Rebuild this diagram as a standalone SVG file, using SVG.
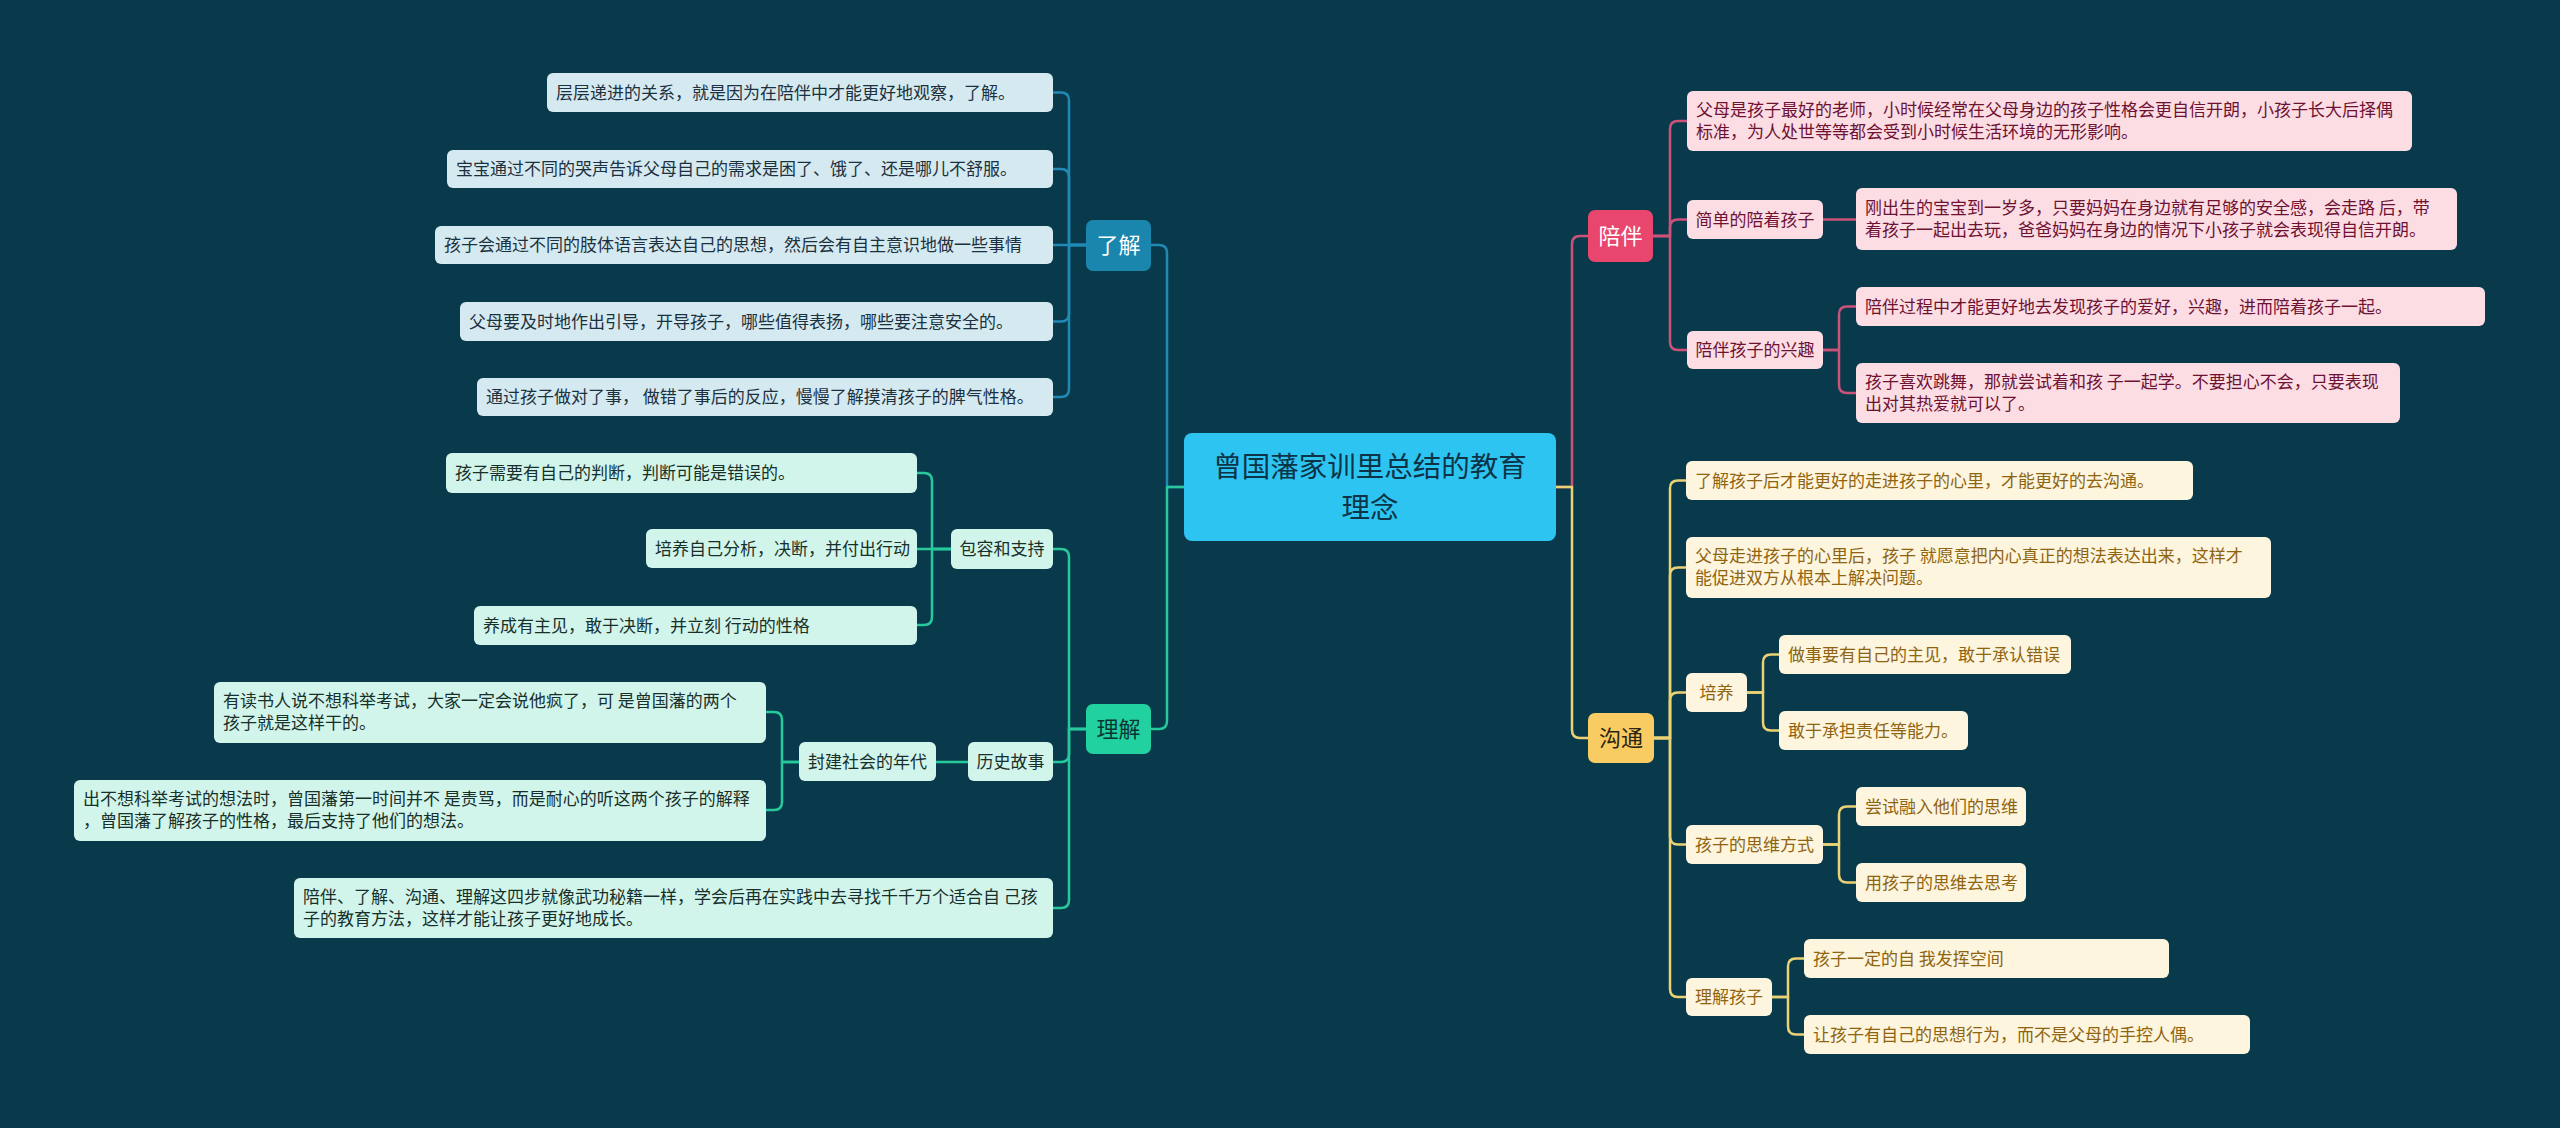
<svg xmlns="http://www.w3.org/2000/svg" width="2560" height="1128" viewBox="0 0 2560 1128">
<style>
text{font-family:"Noto Sans CJK SC","Noto Sans",sans-serif;}
.c path{fill:none;stroke-linecap:round;stroke-linejoin:round;}
.cb{stroke:#2089b5;stroke-width:2.5}
.cg{stroke:#27c99a;stroke-width:2.5}
.cp{stroke:#cc527a;stroke-width:2.5}
.cy{stroke:#ebd275;stroke-width:2.5}
.lb rect{fill:#d5e9f1}
.lb text{fill:#1c3140;font-size:17px}
.lg rect{fill:#d2f5eb}
.lg text{fill:#17302c;font-size:17px}
.lp rect{fill:#fcdde4}
.lp text{fill:#6e1233;font-size:17px}
.ly rect{fill:#fdf5de}
.ly text{fill:#8f6410;font-size:17px}
.mid{text-anchor:middle}
.br text{font-size:22px;text-anchor:middle}
</style>
<rect width="2560" height="1128" fill="#083a4c"/>
<g class="c" id="connectors">
<path class="cb" d="M1184,487 H1167 V253 Q1167,245 1159,245 H1151"/>
<path class="cg" d="M1184,487 H1167 V721 Q1167,729 1159,729 H1151"/>
<path class="cp" d="M1556,487 H1572 V244 Q1572,236 1580,236 H1588"/>
<path class="cy" d="M1556,487 H1572 V730 Q1572,738 1580,738 H1588"/>
<path class="cb" d="M1086,245 H1069 V100.5 Q1069,92.5 1061,92.5 H1053"/>
<path class="cb" d="M1086,245 H1069 V177 Q1069,169 1061,169 H1053"/>
<path class="cb" d="M1086,245 H1053"/>
<path class="cb" d="M1086,245 H1069 V313.5 Q1069,321.5 1061,321.5 H1053"/>
<path class="cb" d="M1086,245 H1069 V389 Q1069,397 1061,397 H1053"/>
<path class="cg" d="M1086,729 H1069 V557 Q1069,549 1061,549 H1053"/>
<path class="cg" d="M1086,729 H1069 V754 Q1069,762 1061,762 H1053"/>
<path class="cg" d="M1086,729 H1069 V900 Q1069,908 1061,908 H1053"/>
<path class="cg" d="M951,549 H932 V481 Q932,473 924,473 H917"/>
<path class="cg" d="M951,549 H917"/>
<path class="cg" d="M951,549 H932 V617 Q932,625 924,625 H917"/>
<path class="cg" d="M968,762 H936"/>
<path class="cg" d="M799,762 H782 V720 Q782,712 774,712 H766"/>
<path class="cg" d="M799,762 H782 V802 Q782,810 774,810 H766"/>
<path class="cp" d="M1653,236 H1670 V129 Q1670,121 1678,121 H1687"/>
<path class="cp" d="M1653,236 H1670 V227.5 Q1670,219.5 1678,219.5 H1687"/>
<path class="cp" d="M1653,236 H1670 V342 Q1670,350 1678,350 H1687"/>
<path class="cp" d="M1823,219.5 H1856"/>
<path class="cp" d="M1823,350 H1839 V314.5 Q1839,306.5 1847,306.5 H1856"/>
<path class="cp" d="M1823,350 H1839 V385 Q1839,393 1847,393 H1856"/>
<path class="cy" d="M1654,738 H1670 V488.5 Q1670,480.5 1678,480.5 H1686"/>
<path class="cy" d="M1654,738 H1670 V575.5 Q1670,567.5 1678,567.5 H1686"/>
<path class="cy" d="M1654,738 H1670 V700.5 Q1670,692.5 1678,692.5 H1686"/>
<path class="cy" d="M1654,738 H1670 V836.5 Q1670,844.5 1678,844.5 H1686"/>
<path class="cy" d="M1654,738 H1670 V989 Q1670,997 1678,997 H1686"/>
<path class="cy" d="M1747,692.5 H1763 V662.5 Q1763,654.5 1771,654.5 H1779"/>
<path class="cy" d="M1747,692.5 H1763 V722.5 Q1763,730.5 1771,730.5 H1779"/>
<path class="cy" d="M1823,844.5 H1839 V814.5 Q1839,806.5 1847,806.5 H1856"/>
<path class="cy" d="M1823,844.5 H1839 V874.5 Q1839,882.5 1847,882.5 H1856"/>
<path class="cy" d="M1772,997 H1788 V966.5 Q1788,958.5 1796,958.5 H1804"/>
<path class="cy" d="M1772,997 H1788 V1026.5 Q1788,1034.5 1796,1034.5 H1804"/>
</g>
<g id="root"><rect x="1184" y="433" width="372" height="108" rx="8" fill="#2ec4f2"/><text x="1370" y="477" font-size="28.5" fill="#0c3446" text-anchor="middle">曾国藩家训里总结的教育</text><text x="1370" y="518" font-size="28.5" fill="#0c3446" text-anchor="middle">理念</text></g>
<g id="n-liaojie" class="br"><rect x="1086" y="220" width="65" height="51" rx="7" fill="#1a86ad"/><text x="1118.5" y="253" fill="#ffffff">了解</text></g>
<g id="n-lijie" class="br"><rect x="1086" y="704" width="65" height="50" rx="7" fill="#22d1a0"/><text x="1118.5" y="737" fill="#0b3535">理解</text></g>
<g id="n-peiban" class="br"><rect x="1588" y="210" width="65" height="52" rx="7" fill="#e8466c"/><text x="1620.5" y="244" fill="#ffffff">陪伴</text></g>
<g id="n-goutong" class="br"><rect x="1588" y="713" width="66" height="50" rx="7" fill="#f9cb63"/><text x="1621" y="746" fill="#2a2410">沟通</text></g>
<g id="b1" class="lb"><rect x="547" y="73" width="506" height="39" rx="6"/><text x="556" y="98.5">层层递进的关系，就是因为在陪伴中才能更好地观察，了解。</text></g>
<g id="b2" class="lb"><rect x="447" y="150" width="606" height="38" rx="6"/><text x="456" y="175">宝宝通过不同的哭声告诉父母自己的需求是困了、饿了、还是哪儿不舒服。</text></g>
<g id="b3" class="lb"><rect x="435" y="226" width="618" height="38" rx="6"/><text x="444" y="251">孩子会通过不同的肢体语言表达自己的思想，然后会有自主意识地做一些事情</text></g>
<g id="b4" class="lb"><rect x="460" y="302" width="593" height="39" rx="6"/><text x="469" y="327.5">父母要及时地作出引导，开导孩子，哪些值得表扬，哪些要注意安全的。</text></g>
<g id="b5" class="lb"><rect x="477" y="378" width="576" height="38" rx="6"/><text x="486" y="403">通过孩子做对了事， 做错了事后的反应，慢慢了解摸清孩子的脾气性格。</text></g>
<g id="g1" class="lg"><rect x="951" y="529" width="102" height="40" rx="6"/><text class="mid" x="1002" y="555">包容和支持</text></g>
<g id="g2" class="lg"><rect x="446" y="453" width="471" height="40" rx="6"/><text x="455" y="479">孩子需要有自己的判断，判断可能是错误的。</text></g>
<g id="g3" class="lg"><rect x="646" y="529" width="271" height="39" rx="6"/><text x="655" y="555">培养自己分析，决断，并付出行动</text></g>
<g id="g4" class="lg"><rect x="474" y="606" width="443" height="39" rx="6"/><text x="483" y="631.5">养成有主见，敢于决断，并立刻 行动的性格</text></g>
<g id="g5" class="lg"><rect x="968" y="742" width="85" height="39" rx="6"/><text class="mid" x="1010.5" y="768">历史故事</text></g>
<g id="g6" class="lg"><rect x="799" y="742" width="137" height="39" rx="6"/><text class="mid" x="867.5" y="768">封建社会的年代</text></g>
<g id="g7" class="lg"><rect x="214" y="682" width="552" height="61" rx="6"/><text x="223" y="707">有读书人说不想科举考试，大家一定会说他疯了，可 是曾国藩的两个</text><text x="223" y="729">孩子就是这样干的。</text></g>
<g id="g8" class="lg"><rect x="74" y="780" width="692" height="61" rx="6"/><text x="83" y="805">出不想科举考试的想法时，曾国藩第一时间并不 是责骂，而是耐心的听这两个孩子的解释</text><text x="83" y="827">，曾国藩了解孩子的性格，最后支持了他们的想法。</text></g>
<g id="g9" class="lg"><rect x="294" y="878" width="759" height="60" rx="6"/><text x="303" y="903">陪伴、了解、沟通、理解这四步就像武功秘籍一样，学会后再在实践中去寻找千千万个适合自 己孩</text><text x="303" y="925">子的教育方法，这样才能让孩子更好地成长。</text></g>
<g id="p1" class="lp"><rect x="1687" y="91" width="725" height="60" rx="6"/><text x="1696" y="116">父母是孩子最好的老师，小时候经常在父母身边的孩子性格会更自信开朗，小孩子长大后择偶</text><text x="1696" y="138"> 标准，为人处世等等都会受到小时候生活环境的无形影响。</text></g>
<g id="p2" class="lp"><rect x="1687" y="200" width="136" height="39" rx="6"/><text class="mid" x="1755" y="225.5">简单的陪着孩子</text></g>
<g id="p3" class="lp"><rect x="1856" y="188" width="601" height="62" rx="6"/><text x="1865" y="214">刚出生的宝宝到一岁多，只要妈妈在身边就有足够的安全感，会走路 后，带</text><text x="1865" y="236">着孩子一起出去玩，爸爸妈妈在身边的情况下小孩子就会表现得自信开朗。</text></g>
<g id="p4" class="lp"><rect x="1687" y="331" width="136" height="38" rx="6"/><text class="mid" x="1755" y="356">陪伴孩子的兴趣</text></g>
<g id="p5" class="lp"><rect x="1856" y="287" width="629" height="39" rx="6"/><text x="1865" y="312.5">陪伴过程中才能更好地去发现孩子的爱好，兴趣，进而陪着孩子一起。</text></g>
<g id="p6" class="lp"><rect x="1856" y="363" width="544" height="60" rx="6"/><text x="1865" y="388">孩子喜欢跳舞，那就尝试着和孩 子一起学。不要担心不会，只要表现</text><text x="1865" y="410">出对其热爱就可以了。</text></g>
<g id="y1" class="ly"><rect x="1686" y="461" width="507" height="39" rx="6"/><text x="1695" y="486.5">了解孩子后才能更好的走进孩子的心里，才能更好的去沟通。</text></g>
<g id="y2" class="ly"><rect x="1686" y="537" width="585" height="61" rx="6"/><text x="1695" y="562">父母走进孩子的心里后，孩子 就愿意把内心真正的想法表达出来，这样才</text><text x="1695" y="584">能促进双方从根本上解决问题。</text></g>
<g id="y3" class="ly"><rect x="1686" y="673" width="61" height="39" rx="6"/><text class="mid" x="1716.5" y="698.5">培养</text></g>
<g id="y4" class="ly"><rect x="1779" y="635" width="292" height="39" rx="6"/><text x="1788" y="660.5">做事要有自己的主见，敢于承认错误</text></g>
<g id="y5" class="ly"><rect x="1779" y="711" width="189" height="39" rx="6"/><text x="1788" y="736.5">敢于承担责任等能力。</text></g>
<g id="y6" class="ly"><rect x="1686" y="825" width="137" height="39" rx="6"/><text class="mid" x="1754.5" y="850.5">孩子的思维方式</text></g>
<g id="y7" class="ly"><rect x="1856" y="787" width="170" height="39" rx="6"/><text x="1865" y="812.5">尝试融入他们的思维</text></g>
<g id="y8" class="ly"><rect x="1856" y="863" width="170" height="39" rx="6"/><text x="1865" y="888.5">用孩子的思维去思考</text></g>
<g id="y9" class="ly"><rect x="1686" y="978" width="86" height="38" rx="6"/><text class="mid" x="1729" y="1003">理解孩子</text></g>
<g id="y10" class="ly"><rect x="1804" y="939" width="365" height="39" rx="6"/><text x="1813" y="964.5">孩子一定的自 我发挥空间</text></g>
<g id="y11" class="ly"><rect x="1804" y="1015" width="446" height="39" rx="6"/><text x="1813" y="1040.5">让孩子有自己的思想行为，而不是父母的手控人偶。</text></g>
</svg>
